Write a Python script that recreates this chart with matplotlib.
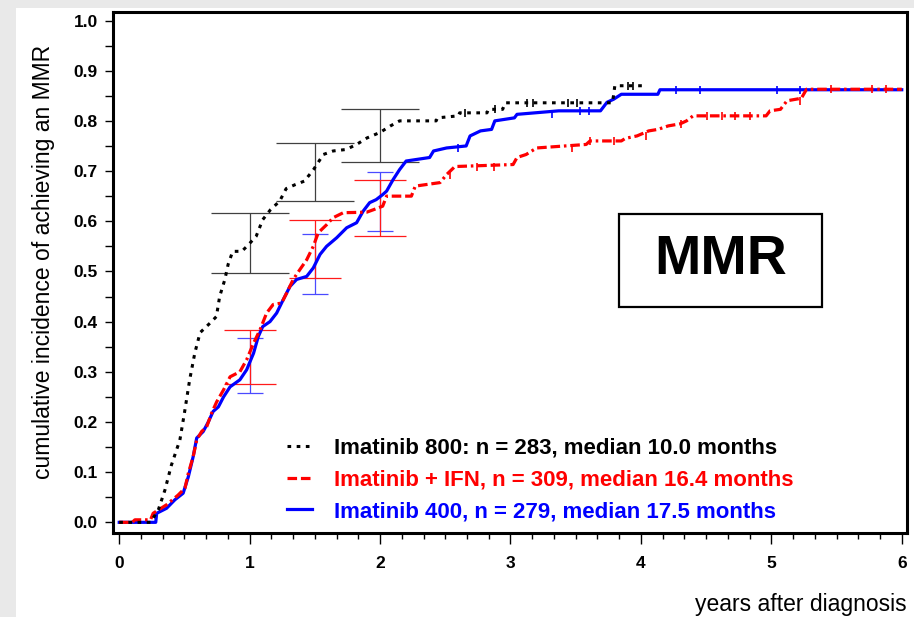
import numpy as np
import matplotlib
matplotlib.use('Agg')
import matplotlib.pyplot as plt
from matplotlib.lines import Line2D
from matplotlib.patches import Rectangle
from matplotlib.ticker import MultipleLocator, FixedLocator

plt.rcParams['font.family'] = ['Liberation Sans', 'DejaVu Sans']

# cumulative incidence curves (years, fraction)
black_t = [0, 0.10, 0.24, 0.30, 0.35, 0.40, 0.465, 0.50, 0.54, 0.58,
           0.62, 0.70, 0.745, 0.77, 0.81, 0.835, 0.87, 0.94, 0.99, 1.05,
           1.10, 1.16, 1.23, 1.28, 1.35, 1.42, 1.49, 1.565, 1.64, 1.74,
           1.82, 1.90, 2.00, 2.08, 2.15, 2.43, 2.44, 2.60, 2.61, 2.82,
           2.83, 2.94, 2.96, 3.78, 3.79, 3.80, 4.02]
black_y = [0, 0, 0.0, 0.025, 0.064, 0.114, 0.164, 0.218, 0.284, 0.338,
           0.378, 0.398, 0.41, 0.45, 0.484, 0.514, 0.54, 0.54, 0.553, 0.57,
           0.603, 0.623, 0.64, 0.665, 0.673, 0.68, 0.703, 0.733, 0.74, 0.743,
           0.753, 0.766, 0.777, 0.79, 0.80, 0.80, 0.806, 0.81, 0.816, 0.816,
           0.823, 0.823, 0.836, 0.836, 0.85, 0.87, 0.87]

red_t = [0, 0.10, 0.12, 0.24, 0.26, 0.363, 0.45, 0.504, 0.53, 0.567,
         0.594, 0.632, 0.67, 0.709, 0.747, 0.80, 0.85, 0.925, 0.977, 1.03,
         1.08, 1.13, 1.18, 1.245, 1.284, 1.334, 1.386, 1.437, 1.488, 1.526,
         1.59, 1.64, 1.718, 1.897, 1.95, 2.02, 2.05, 2.24, 2.27, 2.46,
         2.51, 2.574, 3.02, 3.05, 3.12, 3.20, 3.58, 3.61, 3.85, 3.88,
         3.97, 4.06, 4.13, 4.21, 4.30, 4.35, 4.40, 4.96, 4.99, 5.07,
         5.12, 5.23, 5.27, 6.0]
red_y = [0, 0, 0.005, 0.005, 0.018, 0.035, 0.054, 0.068, 0.098, 0.131,
         0.164, 0.181, 0.19, 0.218, 0.24, 0.264, 0.29, 0.30, 0.324, 0.357,
         0.384, 0.417, 0.434, 0.437, 0.457, 0.484, 0.504, 0.523, 0.55, 0.577,
         0.593, 0.607, 0.617, 0.618, 0.623, 0.63, 0.65, 0.65, 0.67, 0.677,
         0.693, 0.709, 0.713, 0.727, 0.733, 0.746, 0.753, 0.76, 0.76, 0.765,
         0.77, 0.78, 0.783, 0.79, 0.794, 0.80, 0.81, 0.81, 0.82, 0.823,
         0.84, 0.845, 0.863, 0.863]

blue_t = [0, 0.28, 0.287, 0.363, 0.427, 0.49, 0.53, 0.567, 0.594, 0.644,
          0.683, 0.72, 0.76, 0.80, 0.85, 0.925, 0.977, 1.03, 1.066, 1.10,
          1.156, 1.207, 1.258, 1.309, 1.36, 1.437, 1.488, 1.54, 1.59, 1.667,
          1.744, 1.82, 1.87, 1.92, 1.97, 2.02, 2.05, 2.10, 2.15, 2.20,
          2.38, 2.41, 2.51, 2.66, 2.69, 2.77, 2.855, 2.88, 3.03, 3.05,
          3.37, 3.69, 3.74, 3.79, 3.85, 4.13, 4.146, 6.0]
blue_y = [0, 0, 0.018, 0.028, 0.045, 0.058, 0.091, 0.131, 0.168, 0.181,
          0.20, 0.221, 0.23, 0.25, 0.27, 0.284, 0.304, 0.337, 0.37, 0.39,
          0.40, 0.417, 0.444, 0.47, 0.484, 0.49, 0.507, 0.534, 0.55, 0.567,
          0.587, 0.597, 0.62, 0.637, 0.643, 0.653, 0.66, 0.683, 0.703, 0.72,
          0.727, 0.74, 0.746, 0.75, 0.77, 0.78, 0.783, 0.80, 0.806, 0.813,
          0.82, 0.82, 0.837, 0.843, 0.853, 0.853, 0.862, 0.862]

# censoring marks (years)
black_cens = [2.65, 2.88, 3.13, 3.17, 3.44, 3.51, 3.90, 3.94]
red_cens = [2.54, 2.74, 2.87, 3.47, 3.61, 3.79, 4.04, 4.31, 4.51, 4.62,
            4.72, 4.84, 5.22, 5.46, 5.77, 5.88]
blue_cens = [2.60, 3.32, 3.53, 3.60, 4.27, 4.45, 5.04, 5.22]

# confidence intervals at 1, 1.5, 2 years
ci_t = [1.0, 1.5, 2.0]
black_lo = [0.497, 0.641, 0.718]
black_hi = [0.617, 0.755, 0.824]
red_lo = [0.276, 0.487, 0.570]
red_hi = [0.383, 0.603, 0.683]
blue_lo = [0.258, 0.454, 0.580]
blue_hi = [0.367, 0.575, 0.699]

labels = ['Imatinib 800: n = 283, median 10.0 months',
          'Imatinib + IFN, n = 309, median 16.4 months',
          'Imatinib 400, n = 279, median 17.5 months']

black_ls = (0, (1.2, 1.8))
red_ls = (0, (3, 1.2, 3, 1.2, 0.8, 1.2))


def value_at(t, xs, ys):
    idx = np.searchsorted(xs, t, side='right') - 1
    return np.asarray(ys)[idx]


def draw_ci(ax, lo, hi, color, capsize):
    lo = np.array(lo)
    hi = np.array(hi)
    mid = (lo + hi) / 2
    ax.errorbar(ci_t, mid, yerr=[mid - lo, hi - mid], fmt='none',
                ecolor=color, elinewidth=0.9, capsize=capsize,
                capthick=0.9, zorder=2)


fig = plt.figure(figsize=(9.14, 6.17), dpi=100, facecolor='#e9e9e9')
fig.add_artist(Rectangle((16 / 914, 0), 1 - 16 / 914, 1 - 8 / 617,
                         transform=fig.transFigure, facecolor='white',
                         edgecolor='none', zorder=0))
ax = fig.add_axes([0.1236, 0.1366, 0.8687, 0.844])

draw_ci(ax, blue_lo, blue_hi, '#4a4aff', 9.2)
draw_ci(ax, red_lo, red_hi, '#ff1a1a', 18.7)
draw_ci(ax, black_lo, black_hi, '#404040', 28)

ax.plot(blue_t, blue_y, color='blue', lw=2.3, zorder=3)
ax.plot(red_t, red_y, color='red', lw=2.3, ls=red_ls, zorder=4)
ax.plot(black_t, black_y, color='black', lw=2.2, ls=black_ls, zorder=5)

ax.plot(blue_cens, value_at(blue_cens, blue_t, blue_y), ls='none',
        marker='|', ms=6, mew=1.2, color='blue', zorder=3)
ax.plot(red_cens, value_at(red_cens, red_t, red_y), ls='none',
        marker='|', ms=6, mew=1.2, color='red', zorder=4)
ax.plot(black_cens, value_at(black_cens, black_t, black_y), ls='none',
        marker='|', ms=6, mew=1.2, color='black', zorder=5)

ax.set_xlim(-0.048, 6.04)
ax.set_ylim(-0.0207, 1.017)

ax.xaxis.set_major_locator(FixedLocator(range(7)))
ax.xaxis.set_minor_locator(FixedLocator(np.arange(0, 6.01, 1 / 6)))
ax.yaxis.set_major_locator(MultipleLocator(0.1))
ax.yaxis.set_minor_locator(MultipleLocator(0.05))
ax.set_yticks(np.arange(0, 1.01, 0.1))
ax.set_yticklabels(['%.1f' % v for v in np.arange(0, 1.01, 0.1)])
ax.tick_params(axis='x', which='major', length=8, width=1, pad=9,
               labelsize=12.5)
ax.tick_params(axis='x', which='minor', length=4, width=1)
ax.tick_params(axis='y', which='both', length=6, width=1, pad=5,
               labelsize=12.5)
for lab in ax.get_xticklabels() + ax.get_yticklabels():
    lab.set_fontweight('bold')
for sp in ax.spines.values():
    sp.set_linewidth(2.2)

ax.set_xlabel('years after diagnosis', fontsize=16.5, loc='right',
              va='center')
ax.xaxis.set_label_coords(1.0, -0.137)
ax.set_ylabel('cumulative incidence of achieving an MMR', fontsize=16.5,
              va='center')
ax.yaxis.set_label_coords(-0.088, 0.52)

# MMR box
ax.add_patch(Rectangle((0.637, 0.4335), 0.2557, 0.1786,
                       transform=ax.transAxes, facecolor='white',
                       edgecolor='black', lw=1.6, zorder=6))
ax.text(0.765, 0.5228, 'MMR', transform=ax.transAxes, fontsize=40,
        fontweight='bold', ha='center', va='center', zorder=7)

handles = [Line2D([], [], color='black', lw=2.2, ls=black_ls),
           Line2D([], [], color='red', lw=2.3, ls=red_ls),
           Line2D([], [], color='blue', lw=2.3)]
leg = ax.legend(handles, labels, loc='upper left',
                bbox_to_anchor=(0.219, 0.182), frameon=False,
                borderpad=0, borderaxespad=0, handlelength=1.15,
                handletextpad=0.95, labelspacing=0.48, labelcolor='linecolor',
                prop={'size': 16, 'weight': 'bold'})

fig.savefig('out.png', dpi=100, facecolor=fig.get_facecolor())
